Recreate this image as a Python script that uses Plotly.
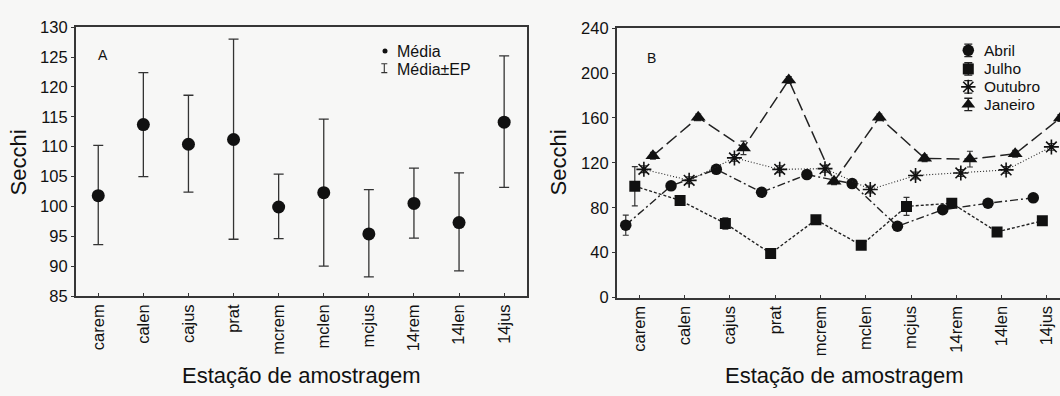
import plotly.graph_objects as go

# ---------------- data ----------------
stations = ["carem", "calen", "cajus", "prat", "mcrem", "mclen", "mcjus", "14rem", "14len", "14jus"]

# Panel A: mean and mean ± standard error
media = [101.8, 113.7, 110.4, 111.2, 99.9, 102.3, 95.4, 100.5, 97.3, 114.1]
media_sup = [110.2, 122.4, 118.6, 128.0, 105.4, 114.6, 102.8, 106.4, 105.6, 125.2]
media_inf = [93.6, 105.0, 102.4, 94.5, 94.6, 90.0, 88.2, 94.7, 89.2, 103.2]

# Panel B: monthly means (and their small error bars)
abril = [64.5, 99.5, 114.2, 93.8, 109.5, 101.5, 63.5, 78.2, 84.0, 88.8]
julho = [99.2, 86.5, 66.0, 39.3, 69.3, 46.5, 81.2, 84.0, 58.5, 68.3]
outubro = [114.2, 104.4, 124.4, 114.2, 114.8, 96.3, 108.7, 111.0, 113.7, 134.2]
janeiro = [126.3, 160.5, 133.3, 193.8, 103.5, 160.5, 124.0, 123.3, 128.0, 160.0]

abril_ep = [9, 3, 3, 3, 3, 3, 3, 3, 3, 3]
julho_ep = [17.5, 3, 5, 3, 3, 3, 8, 3, 3, 3]
outubro_ep = [3, 3, 3, 3, 3, 3, 3, 3, 3, 3]
janeiro_ep = [3, 3, 6, 3, 3, 3, 3, 7, 3, 3]

# ---------------- geometry / style ----------------
W, H = 1060, 396
FONT = "Liberation Sans, Arial, sans-serif"
INK = "#111111"
AX = "#363636"


def dom_x(a, b):
    return [a / W, b / W]


def dom_y(top, bottom):
    return [1 - bottom / H, 1 - top / H]


fig = go.Figure()

# ---- Panel A ----
idx = list(range(len(stations)))
fig.add_trace(go.Scatter(
    x=idx, y=media, mode="markers",
    marker=dict(size=13, color=INK),
    error_y=dict(type="data", symmetric=False,
                 array=[s - m for s, m in zip(media_sup, media)],
                 arrayminus=[m - i for m, i in zip(media, media_inf)],
                 color="#333333", thickness=1.3, width=5),
    xaxis="x", yaxis="y", showlegend=False, name="Média"))

# ---- Panel B ----
series = [
    ("Abril", abril, abril_ep, -0.3, "circle", 11.5, "8px,3px,2px,3px", 1.4),
    ("Julho", julho, julho_ep, -0.1, "square", 11, "3px,2px", 1.4),
    ("Outubro", outubro, outubro_ep, 0.1, "asterisk-open", 12.5, "1px,2px", 1.1),
    ("Janeiro", janeiro, janeiro_ep, 0.3, "triangle-up", 13, "13px,5px", 1.5),
]
for name, vals, ep, off, sym, size, dash, lw in series:
    fig.add_trace(go.Scatter(
        x=[i + off for i in idx], y=vals, mode="lines+markers", name=name,
        line=dict(color="#222222", width=lw, dash=dash),
        marker=dict(symbol=sym, size=size, color=INK,
                    line=dict(color=INK, width=1.6 if "open" in sym else 0)),
        error_y=dict(type="data", array=ep, color="#333333", thickness=1.2, width=3),
        xaxis="x2", yaxis="y2", showlegend=False))

# ---- legend glyphs (drawn in a pixel-coordinate overlay) ----
fig.add_trace(go.Scatter(x=[385], y=[44], mode="markers",
                         marker=dict(size=5, color=INK),
                         xaxis="x3", yaxis="y3", showlegend=False, hoverinfo="skip"))
fig.add_trace(go.Scatter(x=[384.3], y=[62], mode="markers",
                         marker=dict(size=1, color="rgba(0,0,0,0)"),
                         error_y=dict(type="data", array=[4.7], color="#333333", thickness=1.1, width=3),
                         xaxis="x3", yaxis="y3", showlegend=False, hoverinfo="skip"))
leg_y = [43.3, 62.8, 81.6, 100.0]
for (name, vals, ep, off, sym, size, dash, lw), ly in zip(series, leg_y):
    fig.add_trace(go.Scatter(
        x=[968.3], y=[ly], mode="markers",
        marker=dict(symbol=sym, size=min(size, 12), color=INK,
                    line=dict(color=INK, width=1.6 if "open" in sym else 0)),
        error_y=dict(type="data", array=[6.5], color="#222222", thickness=1.3, width=4),
        xaxis="x3", yaxis="y3", showlegend=False, hoverinfo="skip"))

axis_common = dict(showline=True, linecolor=AX, linewidth=1.5, showgrid=False, zeroline=False,
                   tickcolor=AX, ticklen=3, tickfont=dict(family=FONT, size=16.5, color=INK))

fig.update_layout(
    width=W, height=H,
    margin=dict(l=0, r=0, t=0, b=0),
    paper_bgcolor="#f7f7f6", plot_bgcolor="rgba(0,0,0,0)",
    font=dict(family=FONT, color=INK),
    xaxis=dict(domain=dom_x(75.7, 526.7), range=[-0.5, 9.5], anchor="y",
               tickmode="array", tickvals=idx, ticktext=stations, tickangle=-90,
               ticks="inside", mirror=True, **axis_common),
    yaxis=dict(domain=dom_y(19, 300.7), range=[85, 130], dtick=5, anchor="x",
               ticks="outside", mirror=True, **axis_common),
    xaxis2=dict(domain=dom_x(616.7, 1060), range=[-0.5, 9.29], anchor="y2",
                tickmode="array", tickvals=idx, ticktext=stations, tickangle=-90,
                ticks="inside", mirror=True, **axis_common),
    yaxis2=dict(domain=dom_y(20, 302.3), range=[0, 240], dtick=40, anchor="x2",
                ticks="outside", mirror=False, **axis_common),
    xaxis3=dict(domain=[0, 1], range=[0, W], anchor="y3", visible=False, fixedrange=True),
    yaxis3=dict(domain=[0, 1], range=[H, 0], anchor="x3", visible=False, fixedrange=True),
)

ann = []


def txt(x, y, s, size, xanchor="center", angle=0):
    ann.append(dict(x=x, y=y, xref="x3", yref="y3", text=s, showarrow=False,
                    xanchor=xanchor, yanchor="middle", textangle=angle,
                    font=dict(family=FONT, size=size, color=INK)))


txt(18.8, 161, "Secchi", 22, angle=-90)
txt(558.7, 161, "Secchi", 22, angle=-90)
txt(301, 384, "Estação de amostragem", 22)
txt(843.5, 384, "Estação de amostragem", 22)
txt(103.3, 48.3, "A", 14)
txt(651, 51.4, "B", 14)
txt(395, 44, "Média", 16, xanchor="left")
txt(395, 63.5, "Média±EP", 16, xanchor="left")
for (name, *_), ly in zip(series, leg_y):
    txt(981.5, ly, name, 15.5, xanchor="left")

fig.update_layout(annotations=ann)

fig.write_html("out.html")
